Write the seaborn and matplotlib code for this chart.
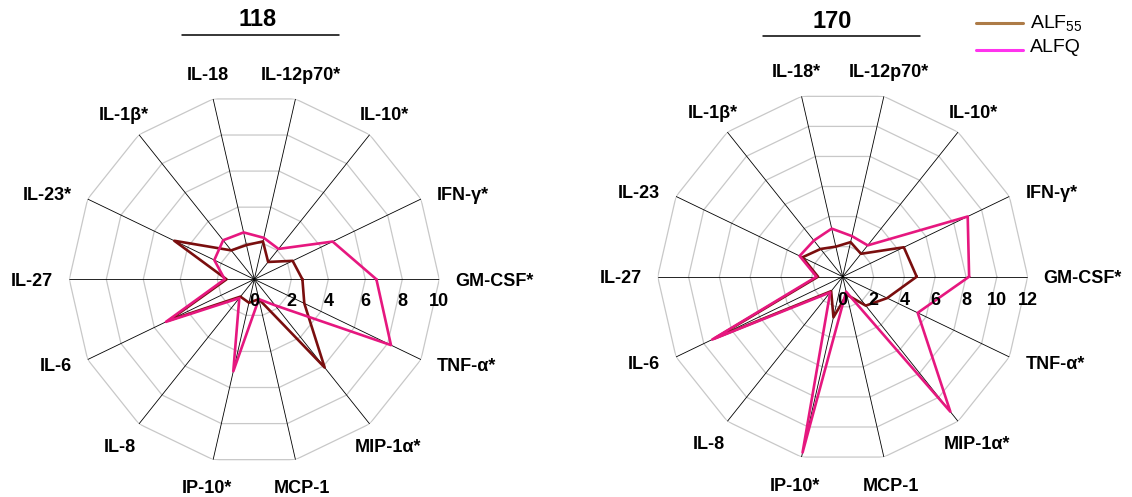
import numpy as np
import pandas as pd
import matplotlib
matplotlib.use('Agg')
import matplotlib.pyplot as plt
import seaborn as sns
from matplotlib.lines import Line2D

# cytokines, counter-clockwise starting from 3 o'clock
labels_118 = ['GM-CSF*', 'IFN-γ*', 'IL-10*', 'IL-12p70*', 'IL-18', 'IL-1β*', 'IL-23*',
              'IL-27', 'IL-6', 'IL-8', 'IP-10*', 'MCP-1', 'MIP-1α*', 'TNF-α*']
labels_170 = ['GM-CSF*', 'IFN-γ*', 'IL-10*', 'IL-12p70*', 'IL-18*', 'IL-1β*', 'IL-23',
              'IL-27', 'IL-6', 'IL-8', 'IP-10*', 'MCP-1', 'MIP-1α*', 'TNF-α*']

alf55_118 = [2.6, 2.3, 1.2, 2.1, 1.9, 2.0, 4.8, 1.5, 5.1, 1.2, 1.3, 1.1, 6.1, 3.0]
alfq_118 = [6.6, 4.7, 2.1, 2.3, 2.6, 2.7, 2.4, 1.6, 5.3, 1.3, 5.1, 1.1, 1.8, 8.2]

alf55_170 = [4.8, 4.4, 1.9, 2.3, 2.0, 2.3, 2.9, 1.6, 9.2, 1.2, 2.7, 1.2, 2.4, 3.2]
alfq_170 = [8.2, 9.0, 2.6, 2.7, 3.2, 3.0, 3.1, 1.7, 9.4, 1.3, 11.7, 1.0, 11.2, 5.4]

line_colors = {'ALF55': '#7a0e0e', 'ALFQ': '#e6177f'}

sns.set_theme(style='white')
plt.rcParams['font.family'] = ['Liberation Sans', 'DejaVu Sans']
plt.rcParams['text.color'] = 'black'
plt.rcParams['mathtext.fontset'] = 'custom'
plt.rcParams['mathtext.rm'] = 'Liberation Sans'
plt.rcParams['mathtext.default'] = 'regular'


def radar(ax, labels, alf55, alfq, rmax, tick_drop):
    n = len(labels)
    theta = np.linspace(0, 2 * np.pi, n, endpoint=False)
    closed = np.append(theta, theta[0])

    # polygon grid rings and black spokes (Excel style)
    for r in range(2, rmax + 1, 2):
        ax.plot(closed, np.full(n + 1, r), color='#c8c8c8', lw=0.9, zorder=1)
    for t in theta:
        ax.plot([t, t], [0, rmax], color='black', lw=0.6, zorder=2)

    df = pd.DataFrame({
        'theta': np.tile(closed, 2),
        'value': np.array(alf55 + alf55[:1] + alfq + alfq[:1]),
        'adjuvant': ['ALF55'] * (n + 1) + ['ALFQ'] * (n + 1),
    })
    sns.lineplot(data=df, x='theta', y='value', hue='adjuvant', palette=line_colors,
                 sort=False, estimator=None, lw=1.9, legend=False, ax=ax, zorder=3)

    ax.set_ylim(0, rmax)
    ax.set_xticks([])
    ax.set_yticks([])
    ax.set_xlabel('')
    ax.set_ylabel('')
    ax.grid(False)
    ax.spines['polar'].set_visible(False)
    ax.patch.set_alpha(0)

    for t, lab in zip(theta, labels):
        c, s = np.cos(t), np.sin(t)
        if abs(c) > 0.85:
            ha = 'left' if c > 0 else 'right'
            off = (16 * np.sign(c), -2 + 12 * s)
        else:
            ha = 'center'
            d = 24 if s > 0 else 30
            off = (d * c, d * s)
        ax.annotate(lab, xy=(t, rmax), xytext=off, textcoords='offset pixels',
                    ha=ha, va='center', fontsize=13, fontweight='bold',
                    color='black', annotation_clip=False)

    for v in range(0, rmax + 1, 2):
        ax.annotate(str(v), xy=(0, v), xytext=(0, -tick_drop), textcoords='offset pixels',
                    ha='center', va='center', fontsize=13, fontweight='bold',
                    color='black', annotation_clip=False, zorder=5)


fig = plt.figure(figsize=(11.32, 4.97), dpi=100)
W, H = 1132, 497

ax1 = fig.add_axes([69.3 / W, 32.7 / H, 370 / W, 370 / H], projection='polar')
radar(ax1, labels_118, alf55_118, alfq_118, 10, 22)

ax2 = fig.add_axes([657.7 / W, 35.3 / H, 370 / W, 370 / H], projection='polar')
radar(ax2, labels_170, alf55_170, alfq_170, 12, 24)

# titles with underline
fig.text(258 / W, 1 - 20 / H, '118', ha='center', va='center', fontsize=17, fontweight='bold')
fig.add_artist(Line2D([182 / W, 339 / W], [1 - 35 / H, 1 - 35 / H], color='black', lw=1.1))
fig.text(832 / W, 1 - 21 / H, '170', ha='center', va='center', fontsize=17, fontweight='bold')
fig.add_artist(Line2D([763 / W, 920 / W], [1 - 36 / H, 1 - 36 / H], color='black', lw=1.1))

# legend
fig.add_artist(Line2D([976 / W, 1023 / W], [1 - 23 / H, 1 - 23 / H], color='#ad7b47', lw=2.2))
fig.add_artist(Line2D([976 / W, 1023 / W], [1 - 50 / H, 1 - 50 / H], color='#ff33ee', lw=2.2))
fig.text(1030 / W, 1 - 23 / H, 'ALF$_{55}$', ha='left', va='center', fontsize=14)
fig.text(1030 / W, 1 - 47 / H, 'ALFQ', ha='left', va='center', fontsize=14)

fig.savefig('out.png', dpi=100)
